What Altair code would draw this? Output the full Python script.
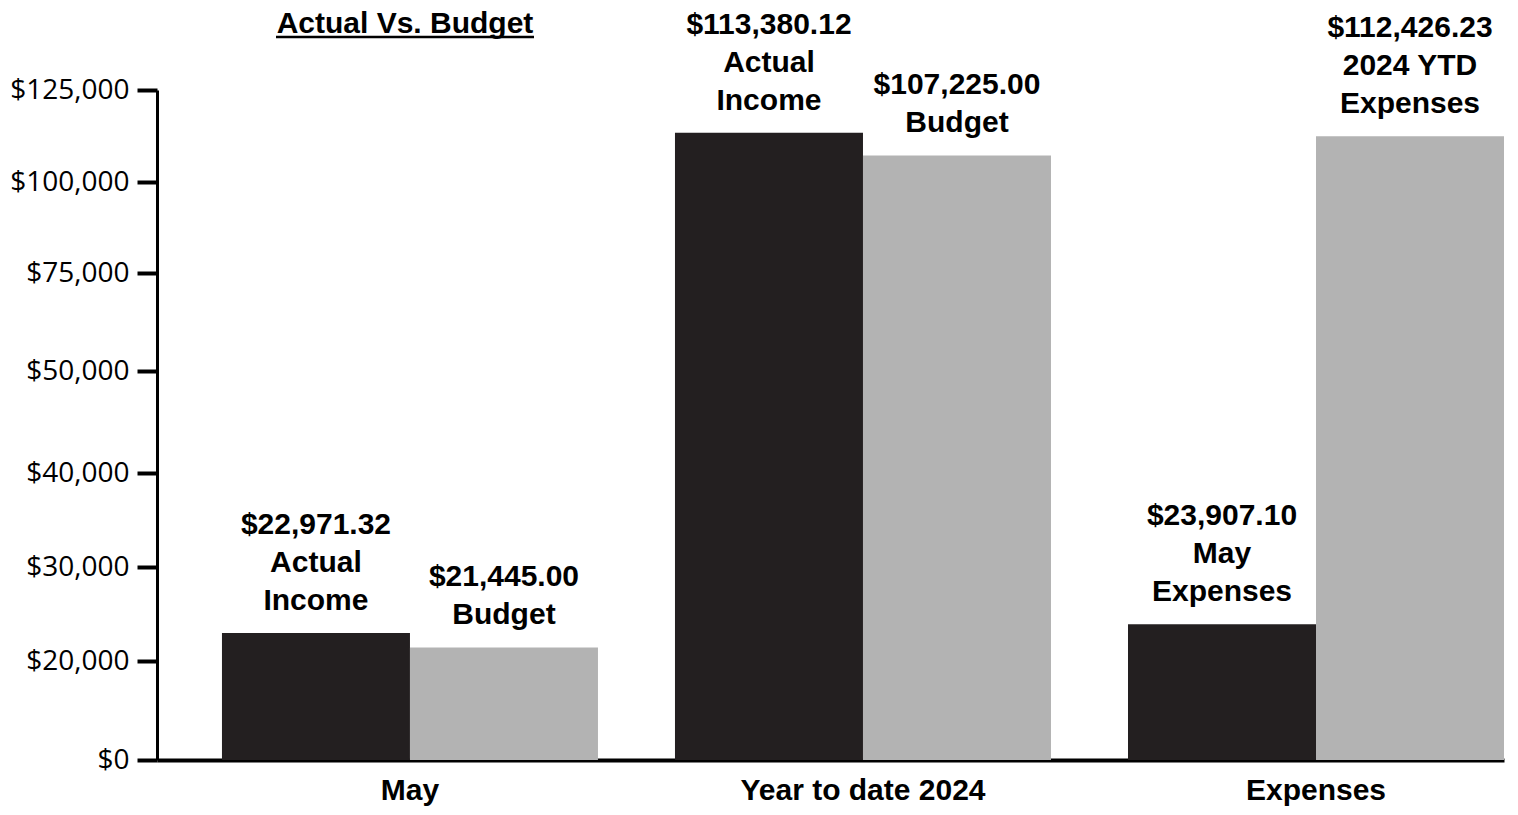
import altair as alt
import pandas as pd

groups = ["May", "May", "Year to date 2024", "Year to date 2024", "Expenses", "Expenses"]
series = ["Actual", "Budget", "Actual", "Budget", "Actual", "Budget"]
values = [22971.32, 21445.00, 113380.12, 107225.00, 23907.10, 112426.23]
captions = [["Actual", "Income"], ["Budget"], ["Actual", "Income"], ["Budget"],
            ["May", "Expenses"], ["2024 YTD", "Expenses"]]

group_order = ["May", "Year to date 2024", "Expenses"]
series_order = ["Actual", "Budget"]
tick_values = [0, 20000, 30000, 40000, 50000, 75000, 100000, 125000]
tick_pixels = [670, 571, 477, 383, 281, 183, 92, 0]

df = pd.DataFrame({"group": groups, "series": series, "value": values})

# long form label table: one row per text line, counted from the bottom line
rows = []
for g, s, v, cap in zip(groups, series, values, captions):
    lines = [f"${v:,.2f}"] + cap
    n = len(lines)
    for i, t in enumerate(lines):
        rows.append({"group": g, "series": s, "value": v, "text": t, "k": n - 1 - i})
ldf = pd.DataFrame(rows)

x_enc = alt.X("group:N", sort=group_order,
              scale=alt.Scale(paddingInner=0.17, paddingOuter=0.0717, align=1),
              axis=alt.Axis(title=None, labelAngle=0, ticks=False, domainWidth=4,
                            domainColor="black", labelFont="Liberation Sans",
                            labelFontWeight="bold", labelFontSize=30, labelColor="black",
                            labelPadding=15, labelBaseline="top", labelLimit=0))
xo_enc = alt.XOffset("series:N", sort=series_order,
                     scale=alt.Scale(paddingInner=0, paddingOuter=0))
y_scale = alt.Scale(domain=tick_values, range=tick_pixels, zero=False, nice=False)

bars = alt.Chart(df).mark_bar().encode(
    x=x_enc,
    xOffset=xo_enc,
    y=alt.Y("value:Q", scale=y_scale,
            axis=alt.Axis(title=None, values=tick_values, format="$,.0f", grid=False,
                          tickSize=20, tickWidth=4, tickColor="black",
                          domainWidth=3, domainColor="black",
                          labelFont="Open Sans", labelFontSize=28, labelColor="black",
                          labelPadding=8)),
    color=alt.Color("series:N", sort=series_order,
                    scale=alt.Scale(domain=series_order, range=["#231f20", "#b3b3b3"]),
                    legend=None),
)

line_h = 38
text_layers = []
for k in range(3):
    text_layers.append(
        alt.Chart(ldf).transform_filter(alt.datum.k == k).mark_text(
            font="Liberation Sans", fontWeight="bold", fontSize=30,
            baseline="bottom", align="center", dy=-17 - k * line_h, color="black",
        ).encode(
            x=alt.X("group:N", sort=group_order),
            xOffset=alt.XOffset("series:N", sort=series_order),
            y=alt.Y("value:Q"),
            text="text:N",
        )
    )

title_df = pd.DataFrame({"t": ["Actual Vs. Budget"]})
title = alt.Chart(title_df).mark_text(
    font="Liberation Sans", fontWeight="bold", fontSize=30, baseline="middle",
    align="center", color="black",
).encode(x=alt.value(248), y=alt.value(-66), text="t:N")
underline = alt.Chart(title_df).mark_rule(color="black", strokeWidth=2.5).encode(
    x=alt.value(119), x2=alt.value(377), y=alt.value(-53))

chart = alt.layer(bars, *text_layers, title, underline).properties(
    width=1347, height=670,
    padding={"left": 149, "top": 82, "right": 6, "bottom": 47},
    autosize=alt.AutoSizeParams(type="none"),
    background="white",
).configure_view(stroke=None)

chart.save("out.html", embed_options={"renderer": "svg", "actions": False})
